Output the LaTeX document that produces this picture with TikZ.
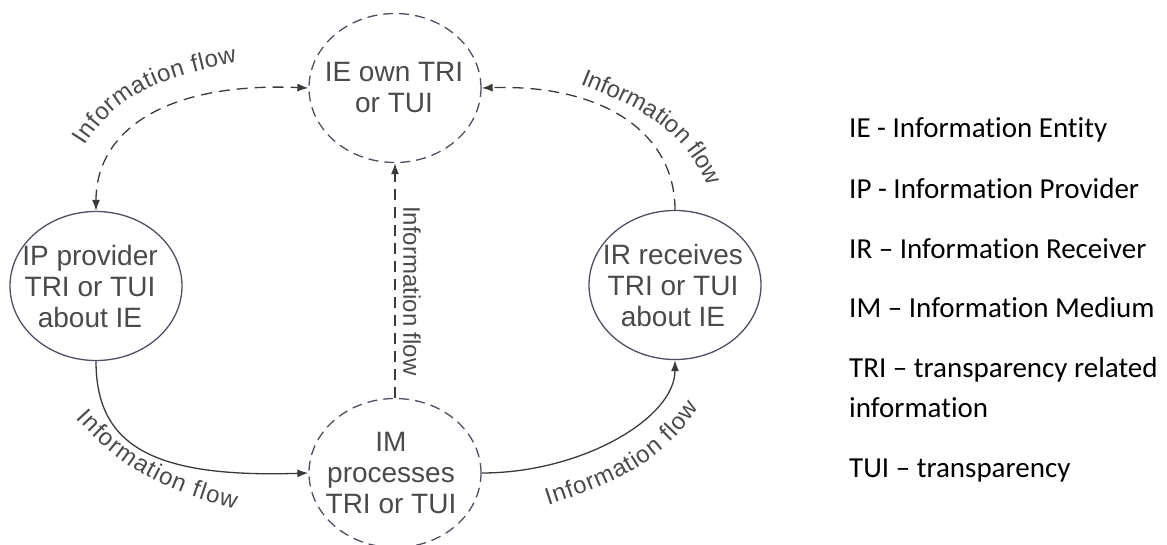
\documentclass[tikz,border=0pt]{standalone}
\usepackage{fontspec}
\setmainfont{Liberation Sans}
\newfontfamily\legendfont[Ligatures={NoCommon}]{Carlito}
\usetikzlibrary{arrows.meta,shapes.geometric,decorations.text}
\definecolor{txt}{HTML}{4A4A4A}
\definecolor{circ}{HTML}{4F4F60}
\definecolor{arc}{HTML}{3A3A3A}
\begin{document}
\begin{tikzpicture}[x=1pt,y=1pt,
  bub/.style={ellipse, minimum width=172pt, minimum height=149pt, inner sep=0pt, draw=circ, line width=1.3pt},
  dbub/.style={bub, dash pattern=on 10pt off 6pt},
  btext/.style={align=center, font=\fontsize{28}{31}\selectfont, text=txt, inner sep=0pt},
  flow/.style={draw=arc, line width=1.3pt},
  dflow/.style={flow, dash pattern=on 11pt off 7pt},
  tip/.style={-{Latex[length=11pt,width=8pt]}},
  lbl/.style={font=\fontsize{24}{24}\selectfont, text=txt, inner sep=0pt},
  along/.style={decorate, decoration={text along path, text format delimiters={[}{]},
     text={[\fontsize{24}{24}\selectfont]Information flow},
     text color=txt, text align=fit to path}},
  leg/.style={anchor=base west, font=\legendfont\fontsize{29}{40}\selectfont, text=black, inner sep=0pt}
]
\useasboundingbox (0,0) rectangle (1167,-544);

% circles
\node[dbub] (IE) at (395,-88) {};
\node[bub]  (IP) at (96,-286) {};
\node[bub]  (IR) at (675,-285) {};
\node[dbub] (IM) at (395,-473) {};

% circle texts
\node[btext] (IEt) at (394,-88) {IE own TRI\\or TUI};
\node[btext] (IPt) at (90,-286) {IP provider\\TRI or TUI\\about IE};
\node[btext] (IRt) at (673,-285) {IR receives\\TRI or TUI\\about IE};
\node[btext] (IMt) at (391,-473) {IM\\processes\\TRI or TUI};

% connectors
\draw[dflow, {Latex[length=11pt,width=8pt]}-{Latex[length=11pt,width=8pt]}]
  (IP.north) .. controls +(0,82) and +(-140,6) .. (IE.west);
\draw[dflow, tip] (IR.north) .. controls +(0,78) and +(120,4) .. (IE.east);
\draw[flow, tip] (IP.south) .. controls +(0,-85) and +(-155,-5) .. (IM.west);
\draw[flow, tip] (IM.east) .. controls +(100,0) and +(0,-58) .. (IR.south);
\draw[dflow, tip] (IM.north) -- (IE.south);

% connector labels
\coordinate (a1s) at (85,-146);  \coordinate (a1e) at (237,-62);
\coordinate (a2s) at (580,-84);  \coordinate (a2e) at (706,-182);
\coordinate (a3s) at (76,-418);  \coordinate (a3e) at (235,-509);
\coordinate (a4s) at (548,-505); \coordinate (a4e) at (699,-408);
\path[along] (a1s) to[out=58,in=192] (a1e);
\path[along] (a2s) to[out=-22,in=115] (a2e);
\path[along] (a3s) to[out=-48,in=165] (a3e);
\path[along] (a4s) to[out=18,in=235] (a4e);
\node[lbl, rotate=-90] (lv) at (412,-291) {Information flow};

% legend
\node[leg] (l1) at (849,-137) {IE - Information Entity};
\node[leg] (l2) at (849,-198) {IP - Information Provider};
\node[leg] (l3) at (849,-258) {IR – Information Receiver};
\node[leg] (l4) at (849,-317) {IM – Information Medium};
\node[leg] (l5) at (849,-377) {TRI – transparency related};
\node[leg] (l5b) at (849,-417) {information};
\node[leg] (l6) at (849,-477) {TUI – transparency};
\end{tikzpicture}
\end{document}
